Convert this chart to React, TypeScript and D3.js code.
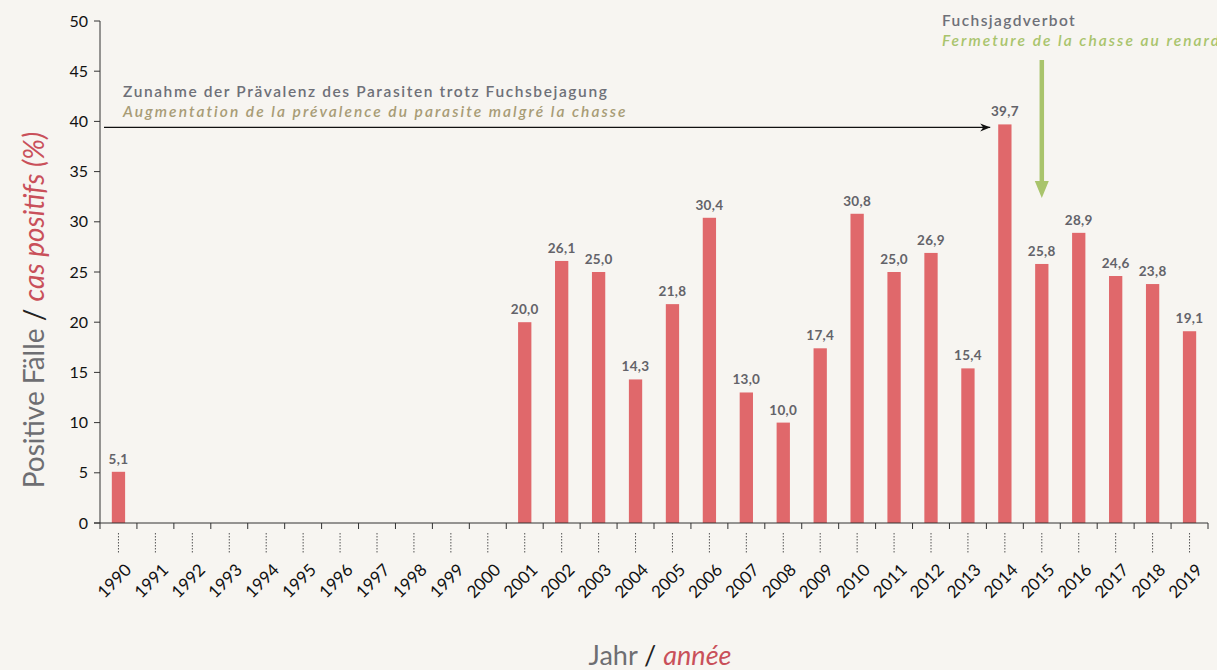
import React from "react";
import * as d3 from "d3";

const years: string[] = d3.range(1990, 2020).map(String);
const yearsWithData: string[] = ["1990","2001","2002","2003","2004","2005","2006","2007","2008","2009","2010","2011","2012","2013","2014","2015","2016","2017","2018","2019"];
const values: number[] = [5.1,20.0,26.1,25.0,14.3,21.8,30.4,13.0,10.0,17.4,30.8,25.0,26.9,15.4,39.7,25.8,28.9,24.6,23.8,19.1];
const yTicks: number[] = [0,5,10,15,20,25,30,35,40,45,50];
const prevalenceArrowValue = 39.4;
const arrowStartYear = "1990";
const arrowEndYear = "2014";
const banYear = "2015";

const W = 1217, H = 670;
const M = { left: 100, right: 9, top: 21, bottom: 147 };
const FONT = "Lato, 'Open Sans', sans-serif";

export default function App() {
  const x = d3.scaleBand<string>().domain(years).range([M.left, W - M.right]).paddingInner(0.64).paddingOuter(0.32);
  const xb = d3.scaleBand<string>().domain(years).range([M.left, W - M.right]);
  const y = d3.scaleLinear().domain([0, 50]).range([H - M.bottom, M.top]);
  const fmt = (v: number) => v.toFixed(1).replace(".", ",");
  const y0 = y(0);
  const bandW = xb.bandwidth();
  const arrowY = y(prevalenceArrowValue);
  const arrowX1 = (xb(arrowStartYear) as number) + 4;
  const arrowX2 = (x(arrowEndYear) as number) - 8;
  const banX = (xb(banYear) as number) + bandW / 2;

  return (
    <svg width={W} height={H} style={{ position: "absolute", left: 0, top: 0, background: "#f7f5f1" }} fontFamily={FONT}>
      <defs>
        <marker id="blk" viewBox="0 0 10 10" refX="10" refY="5" markerWidth="10" markerHeight="10" markerUnits="userSpaceOnUse" orient="auto">
          <path d="M0,1 L10,5 L0,9 L3,5 Z" fill="#111" />
        </marker>
      </defs>
      <rect x={0} y={0} width={W} height={H} fill="#f7f5f1" />

      {/* y axis */}
      <line x1={M.left} x2={M.left} y1={M.top} y2={y0} stroke="#333" strokeWidth={1} />
      {yTicks.map(t => (
        <g key={t}>
          <line x1={M.left - 6} x2={M.left} y1={y(t)} y2={y(t)} stroke="#333" />
          <text x={M.left - 12} y={y(t)} dy="0.35em" textAnchor="end" fontSize={16} fill="#111">{t}</text>
        </g>
      ))}

      {/* bars */}
      {yearsWithData.map((yr, i) => (
        <rect key={yr} x={x(yr)} y={y(values[i])} width={x.bandwidth()} height={y0 - y(values[i])} fill="#e0686b" />
      ))}
      {yearsWithData.map((yr, i) => (
        <text key={"l" + yr} x={(x(yr) as number) + x.bandwidth() / 2} y={y(values[i]) - 8} textAnchor="middle" fontSize={13.5} fontWeight={700} fill="#636369" letterSpacing={0.3}>{fmt(values[i])}</text>
      ))}

      {/* x axis */}
      <line x1={M.left - 6} x2={W - M.right} y1={y0} y2={y0} stroke="#333" />
      {years.concat(["end"]).map((yr, i) => {
        const px = M.left + i * bandW;
        return <line key={"t" + yr} x1={px} x2={px} y1={y0} y2={y0 + 6} stroke="#333" />;
      })}
      {years.map(yr => {
        const cx = (xb(yr) as number) + bandW / 2;
        return (
          <g key={"x" + yr}>
            <line x1={cx} x2={cx} y1={y0 + 10} y2={y0 + 30} stroke="#555" strokeDasharray="1.5,1.5" />
            <text transform={`translate(${cx + 14},${y0 + 48}) rotate(-45)`} textAnchor="end" fontSize={17} fill="#111">{yr}</text>
          </g>
        );
      })}

      {/* axis titles */}
      <text transform={`translate(44,310) rotate(-90)`} textAnchor="middle" fontSize={28}>
        <tspan fill="#6e6e72">Positive Fälle </tspan>
        <tspan fill="#222">/ </tspan>
        <tspan fill="#c9505a" fontStyle="italic">cas positifs (%)</tspan>
      </text>
      <text x={660} y={665} textAnchor="middle" fontSize={27}>
        <tspan fill="#6e6e72">Jahr </tspan>
        <tspan fill="#222">/ </tspan>
        <tspan fill="#c9505a" fontStyle="italic">année</tspan>
      </text>

      {/* annotation: prevalence */}
      <line x1={arrowX1} x2={arrowX2} y1={arrowY} y2={arrowY} stroke="#111" strokeWidth={1.2} markerEnd="url(#blk)" />
      <text x={123} y={97} fontSize={15.5} fontWeight={600} fill="#6e7078" letterSpacing={1.6}>Zunahme der Prävalenz des Parasiten trotz Fuchsbejagung</text>
      <text x={123} y={117} fontSize={15.5} fontWeight={600} fontStyle="italic" fill="#a89c76" letterSpacing={2.05}>Augmentation de la prévalence du parasite malgré la chasse</text>

      {/* annotation: ban */}
      <text x={942} y={26} fontSize={15.5} fontWeight={600} fill="#6e7078" letterSpacing={1.4}>Fuchsjagdverbot</text>
      <text x={942} y={46} fontSize={15.5} fontWeight={600} fontStyle="italic" fill="#a9c46c" letterSpacing={2.05}>Fermeture de la chasse au renard</text>
      <line x1={banX} x2={banX} y1={60} y2={182} stroke="#a9c46c" strokeWidth={4.5} />
      <path d={`M${banX - 7},181 L${banX + 7},181 L${banX},198 Z`} fill="#a9c46c" />
    </svg>
  );
}
